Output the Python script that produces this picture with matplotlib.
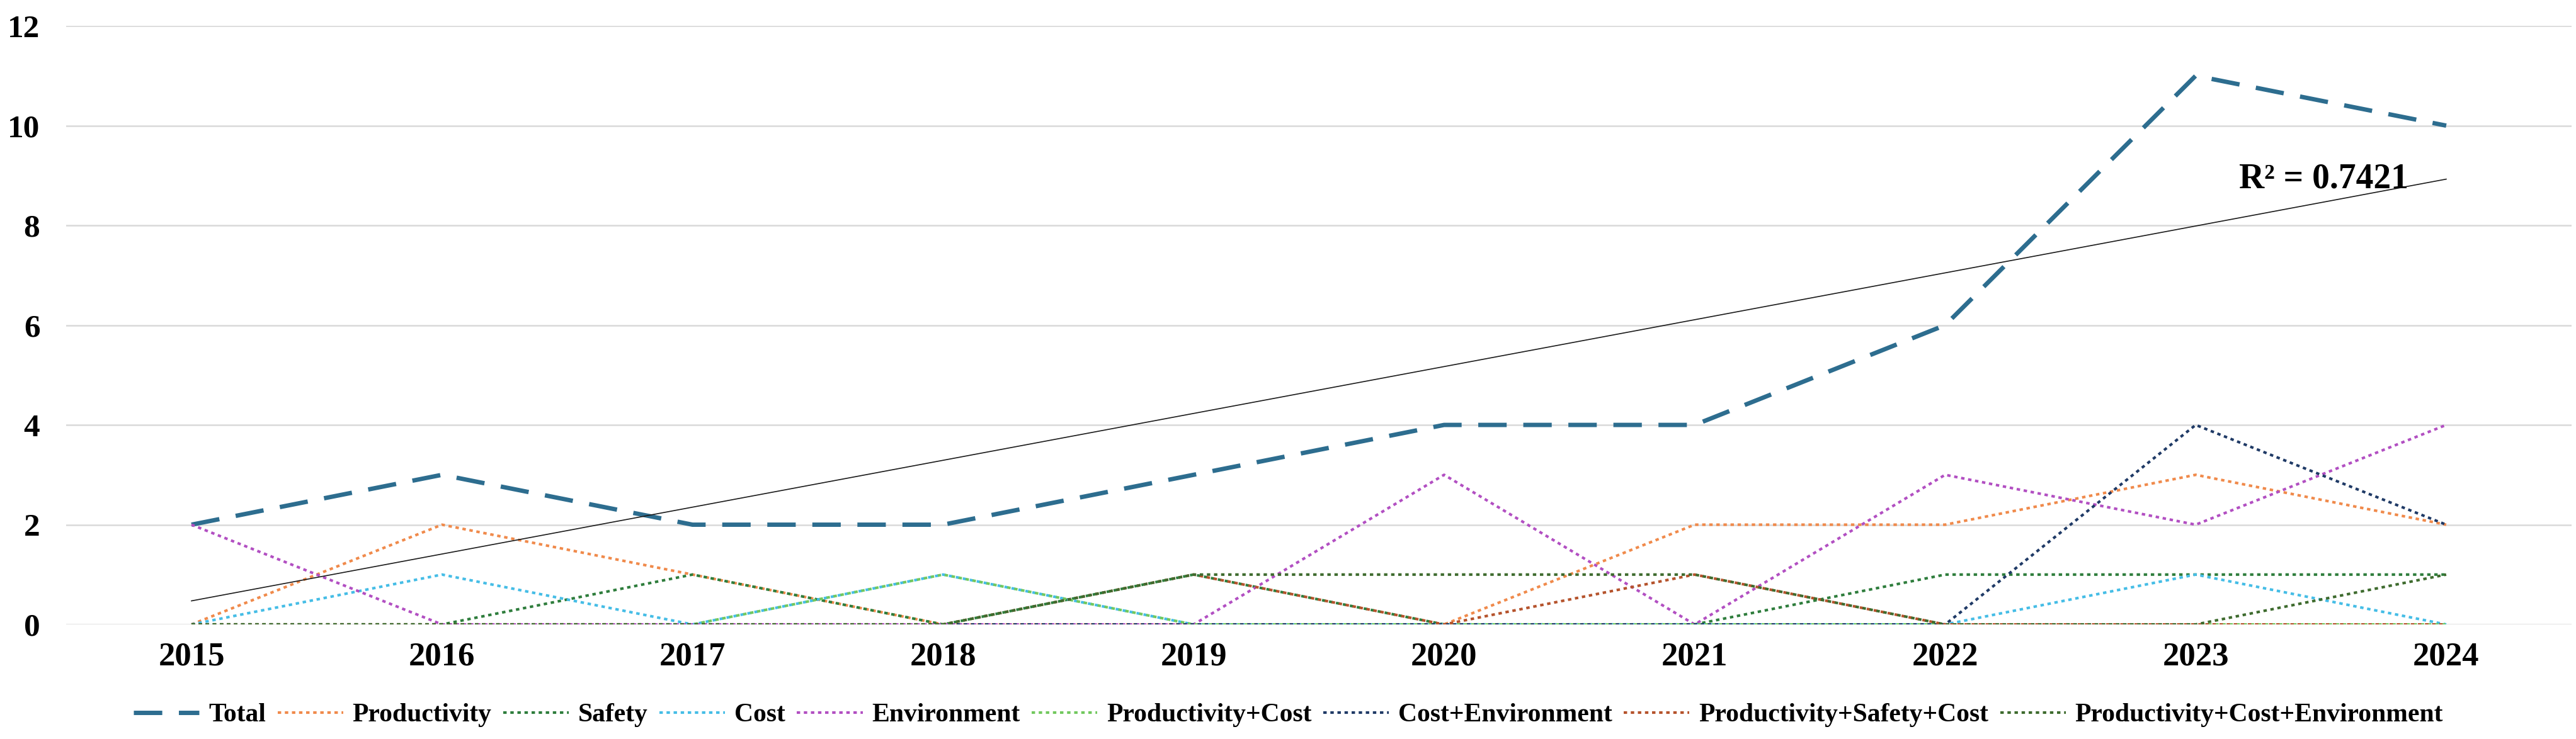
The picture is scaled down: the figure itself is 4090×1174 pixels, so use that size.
import numpy as np
import matplotlib
matplotlib.use("Agg")
import matplotlib.pyplot as plt

plt.rcParams['font.family'] = ['Liberation Serif', 'DejaVu Serif']
plt.rcParams['font.weight'] = 'bold'

years = ['2015', '2016', '2017', '2018', '2019', '2020', '2021', '2022', '2023', '2024']

total = [2, 3, 2, 2, 3, 4, 4, 6, 11, 10]
productivity = [0, 2, 1, 0, 0, 0, 2, 2, 3, 2]
safety = [0, 0, 1, 0, 1, 0, 0, 1, 1, 1]
cost = [0, 1, 0, 1, 0, 0, 0, 0, 1, 0]
environment = [2, 0, 0, 0, 0, 3, 0, 3, 2, 4]
prod_cost = [0, 0, 0, 1, 0, 0, 0, 0, 0, 0]
cost_env = [0, 0, 0, 0, 0, 0, 0, 0, 4, 2]
prod_safety_cost = [0, 0, 0, 0, 1, 0, 1, 0, 0, 0]
prod_cost_env = [0, 0, 0, 0, 1, 1, 1, 0, 0, 1]

series_names = ['Productivity', 'Safety', 'Cost', 'Environment', 'Productivity+Cost',
                'Cost+Environment', 'Productivity+Safety+Cost', 'Productivity+Cost+Environment']
series_vals = [productivity, safety, cost, environment, prod_cost,
               cost_env, prod_safety_cost, prod_cost_env]
series_colors = ['#F08A4B', '#2E7D3C', '#45BDE6', '#B24FC2', '#72C85E',
                 '#1F3A66', '#B5532C', '#3E6B2E']

fig = plt.figure(figsize=(40.91, 11.74), dpi=100)
ax = fig.add_axes([0.0257, 0.155, 0.9723, 0.81])

x = np.arange(len(years))

ax.plot(x, total, color='#2D6D8F', lw=5.0, linestyle=(0, (6.5, 3.8)), label='Total')
for name, vals, col in zip(series_names, series_vals, series_colors):
    ax.plot(x, vals, color=col, lw=3.0, linestyle=(0, (1.3, 1.4)), label=name)

# linear trendline on the total
coef = np.polyfit(x, total, 1)
fit = np.polyval(coef, x)
r2 = 1 - np.sum((np.array(total) - fit) ** 2) / np.sum((np.array(total) - np.mean(total)) ** 2)
ax.plot(x, fit, color='#1A1A1A', lw=1.2)
ax.text(8.51, 8.93, 'R² = %.4f' % r2, fontsize=40, fontweight='bold', ha='center', va='center')

ax.set_xlim(-0.5, len(years) - 0.5)
ax.set_ylim(0, 12)
ax.set_yticks(range(0, 13, 2))
ax.set_xticks(x)
ax.set_xticklabels(years)
ax.tick_params(axis='x', labelsize=38, length=0, pad=20)
ax.tick_params(axis='y', labelsize=37, length=0, pad=30)
ax.grid(axis='y', color='#D9D9D9', lw=1.8)
ax.set_axisbelow(True)
for s in ax.spines.values():
    s.set_visible(False)

leg = fig.legend(loc='center', bbox_to_anchor=(0.5, 1 - 1136 / 1174), ncol=9, frameon=False,
                 fontsize=30, handlelength=2.5, handletextpad=0.35, columnspacing=0.45)

fig.savefig('out.png', dpi=100, facecolor='white')
